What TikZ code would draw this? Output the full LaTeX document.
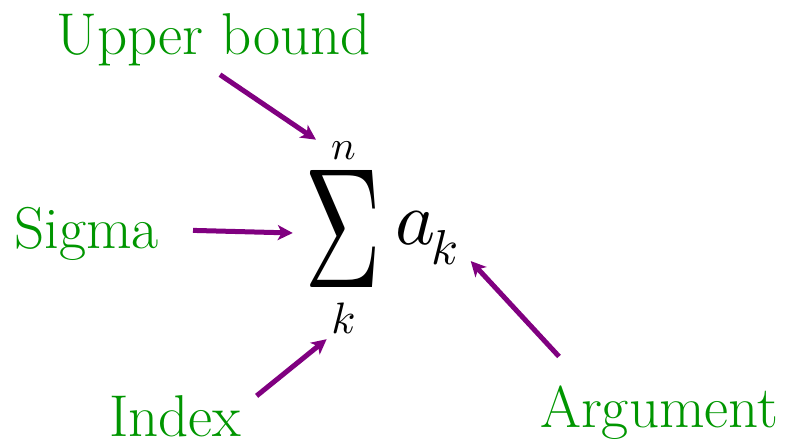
\documentclass[tikz,border=0pt]{standalone}
\usepackage{graphicx}
\DeclareFontShape{OML}{cmm}{m}{it}{<->cmmi10}{}
\usetikzlibrary{positioning, arrows.meta}
\definecolor{labelgreen}{RGB}{0,150,0}
\definecolor{arrowpurple}{RGB}{128,0,128}

\begin{document}
\begin{tikzpicture}[x=1pt, y=-1pt,
                term/.style={inner sep=0pt, text=black},
                caption/.style={inner sep=0pt, anchor=base west, text=labelgreen, font=\fontsize{59}{60}\selectfont},
                pointer/.style={draw=arrowpurple, line width=5pt, -{Stealth[length=15pt, width=15pt, inset=4pt]}}
            ]
            \useasboundingbox (0,0) rectangle (785,441);

            % Formel
            \node[term] (sum) at (343.5,228.5) {\resizebox*{77pt}{117pt}{$\Sigma$}};
            \node[term, above=10pt of sum, font=\fontsize{41}{41}\selectfont] (ulim) {$n$};
            \node[term, below=15pt of sum, font=\fontsize{44}{44}\selectfont] (llim) {$k$};
            \node[term, right=13pt of sum, font=\fontsize{76}{76}\selectfont] (aa) {$a$};
            \node[term, anchor=base west, font=\fontsize{49}{49}\selectfont] (ksub) at ([shift={(-4,20)}]aa.base east) {$k$};

            % Beschriftungen
            \node[caption] (upperlabel) at (56,55) {Upper bound};
            \node[caption] (sigmalabel) at (14,248) {Sigma};
            \node[caption] (indexlabel) at (109,436) {Index};
            \node[caption] (arglabel) at (540,427) {Argument};

            % Pfeile
            \draw[pointer] ([shift={(6.5,8)}]upperlabel.south) -- ([shift={(-15,-2)}]ulim.north west);
            \draw[pointer] ([shift={(34,-3)}]sigmalabel.east) -- ([shift={(-12,4.5)}]sum.west);
            \draw[pointer] ([shift={(15,1)}]indexlabel.north east) -- ([shift={(-4.5,6)}]llim.south west);
            \draw[pointer] ([shift={(19,-28.6)}]arglabel.north west) -- ([shift={(11.5,-4)}]ksub.south east);

        \end{tikzpicture}
\end{document}
